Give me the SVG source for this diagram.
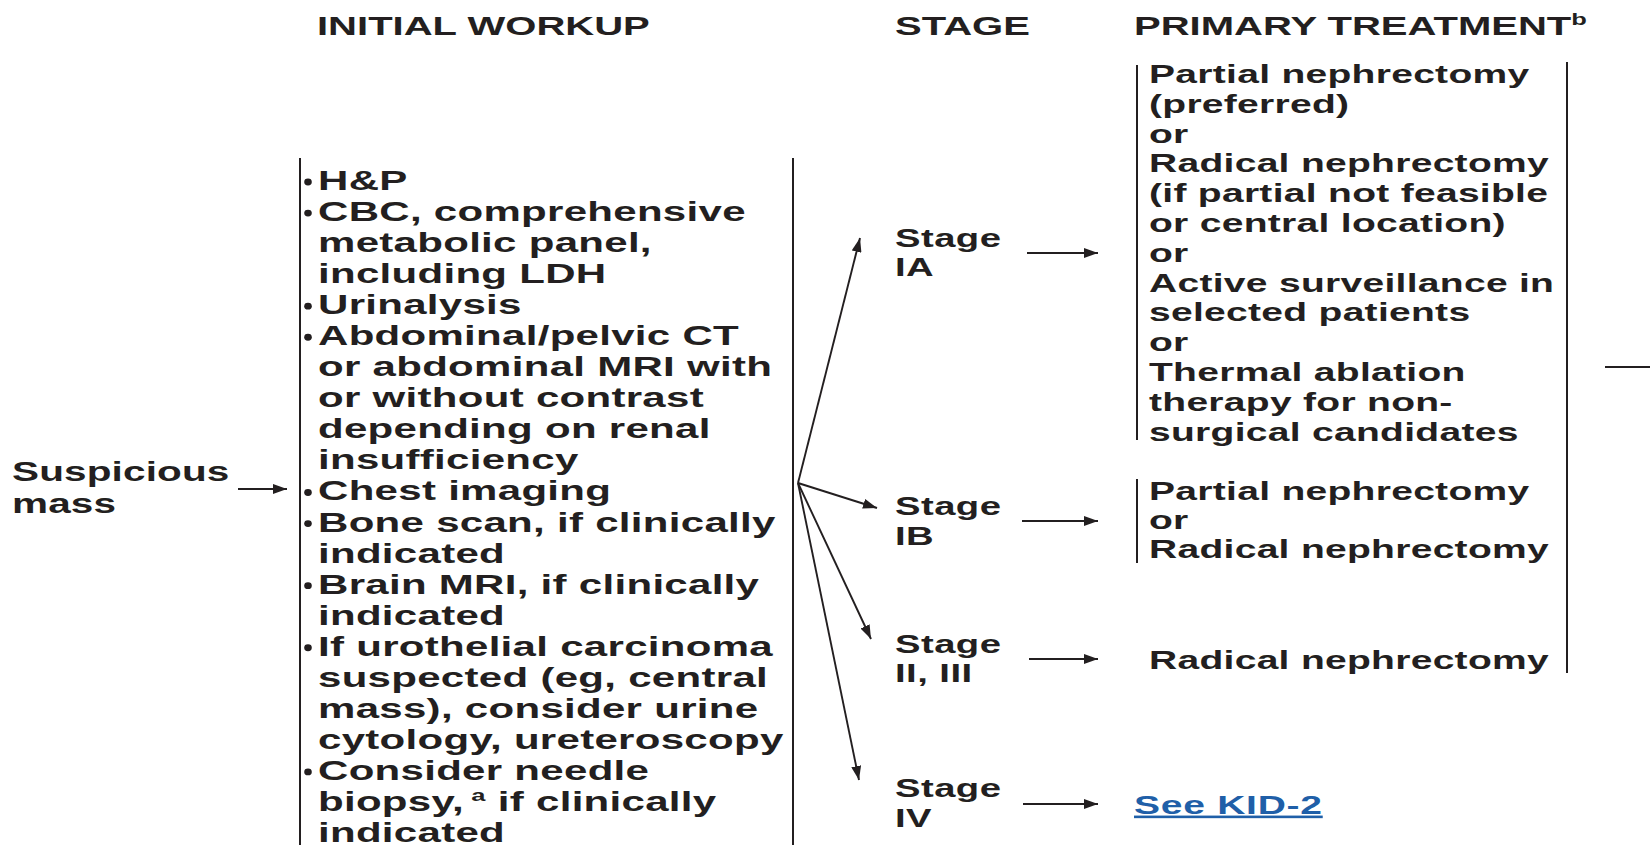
<svg xmlns="http://www.w3.org/2000/svg" width="1650" height="845" viewBox="0 0 1650 845">
<defs>
<style>
.t{font-family:"Liberation Sans",Arial,sans-serif;font-weight:bold;fill:#231f20}
.h{font-size:26.7px}
.l{font-size:28px;letter-spacing:0.2px}
.r{font-size:26px;letter-spacing:0.2px}
.s{font-size:25.5px;letter-spacing:0.3px}
.m{font-size:27px;letter-spacing:0.1px}
.bar{stroke:#231f20;stroke-width:2;fill:none}
.con{stroke:#231f20;stroke-width:1.9;fill:none;marker-end:url(#ah)}
.lnk{fill:#1f5fa8;letter-spacing:0.5px}
</style>
<marker id="ah" markerWidth="14" markerHeight="10" refX="14" refY="5" orient="auto" markerUnits="userSpaceOnUse">
<path d="M0,0 L14,5 L0,10 z" fill="#231f20"/>
</marker>
</defs>
<rect width="1650" height="845" fill="#ffffff"/>

<g id="headers">
<text class="t h" transform="translate(317,35) scale(1.5,1)">INITIAL WORKUP</text>
<text class="t h" transform="translate(895,35) scale(1.5,1)">STAGE</text>
<text class="t h" transform="translate(1134,35) scale(1.5,1)">PRIMARY TREATMENT<tspan font-size="17" dy="-10">b</tspan></text>
</g>

<g id="node-suspicious-mass">
<text class="t m" transform="translate(12,481) scale(1.5,1)"><tspan x="0" dy="0">Suspicious</tspan><tspan x="0" dy="32">mass</tspan></text>
</g>

<g id="node-initial-workup">
<line class="bar" x1="300" y1="158" x2="300" y2="845"/>
<line class="bar" x1="793" y1="158" x2="793" y2="845"/>
<g fill="#231f20">
<ellipse cx="308" cy="182" rx="3.8" ry="3.4"/>
<ellipse cx="308" cy="213.05" rx="3.8" ry="3.4"/>
<ellipse cx="308" cy="306.2" rx="3.8" ry="3.4"/>
<ellipse cx="308" cy="337.25" rx="3.8" ry="3.4"/>
<ellipse cx="308" cy="492.5" rx="3.8" ry="3.4"/>
<ellipse cx="308" cy="523.55" rx="3.8" ry="3.4"/>
<ellipse cx="308" cy="585.65" rx="3.8" ry="3.4"/>
<ellipse cx="308" cy="647.75" rx="3.8" ry="3.4"/>
<ellipse cx="308" cy="771.95" rx="3.8" ry="3.4"/>
</g>
<text class="t l" transform="translate(318,190) scale(1.5,1)">
<tspan x="0" dy="0">H&amp;P</tspan>
<tspan x="0" dy="31.05">CBC, comprehensive</tspan>
<tspan x="0" dy="31.05">metabolic panel,</tspan>
<tspan x="0" dy="31.05">including LDH</tspan>
<tspan x="0" dy="31.05">Urinalysis</tspan>
<tspan x="0" dy="31.05">Abdominal/pelvic CT</tspan>
<tspan x="0" dy="31.05">or abdominal MRI with</tspan>
<tspan x="0" dy="31.05">or without contrast</tspan>
<tspan x="0" dy="31.05">depending on renal</tspan>
<tspan x="0" dy="31.05">insufficiency</tspan>
<tspan x="0" dy="31.05">Chest imaging</tspan>
<tspan x="0" dy="31.05">Bone scan, if clinically</tspan>
<tspan x="0" dy="31.05">indicated</tspan>
<tspan x="0" dy="31.05">Brain MRI, if clinically</tspan>
<tspan x="0" dy="31.05">indicated</tspan>
<tspan x="0" dy="31.05">If urothelial carcinoma</tspan>
<tspan x="0" dy="31.05">suspected (eg, central</tspan>
<tspan x="0" dy="31.05">mass), consider urine</tspan>
<tspan x="0" dy="31.05">cytology, ureteroscopy</tspan>
<tspan x="0" dy="31.05">Consider needle</tspan>
<tspan x="0" dy="31.05">biopsy,</tspan><tspan font-size="17" dy="-10"> a</tspan><tspan dy="10"> if clinically</tspan>
<tspan x="0" dy="31.05">indicated</tspan>
</text>
</g>

<g id="node-stage-ia">
<text class="t s" transform="translate(895,247) scale(1.5,1)"><tspan x="0">Stage</tspan><tspan x="0" dy="29.5">IA</tspan></text>
</g>
<g id="node-stage-ib">
<text class="t s" transform="translate(895,515) scale(1.5,1)"><tspan x="0">Stage</tspan><tspan x="0" dy="30">IB</tspan></text>
</g>
<g id="node-stage-ii-iii">
<text class="t s" transform="translate(895,653) scale(1.5,1)"><tspan x="0">Stage</tspan><tspan x="0" dy="29.5">II, III</tspan></text>
</g>
<g id="node-stage-iv">
<text class="t s" transform="translate(895,797) scale(1.5,1)"><tspan x="0">Stage</tspan><tspan x="0" dy="30">IV</tspan></text>
</g>

<g id="node-treatment-ia">
<line class="bar" x1="1137" y1="65" x2="1137" y2="440"/>
<text class="t r" transform="translate(1149,83) scale(1.5,1)">
<tspan x="0" dy="0">Partial nephrectomy</tspan>
<tspan x="0" dy="29.8">(preferred)</tspan>
<tspan x="0" dy="29.8">or</tspan>
<tspan x="0" dy="29.8">Radical nephrectomy</tspan>
<tspan x="0" dy="29.8">(if partial not feasible</tspan>
<tspan x="0" dy="29.8">or central location)</tspan>
<tspan x="0" dy="29.8">or</tspan>
<tspan x="0" dy="29.8">Active surveillance in</tspan>
<tspan x="0" dy="29.8">selected patients</tspan>
<tspan x="0" dy="29.8">or</tspan>
<tspan x="0" dy="29.8">Thermal ablation</tspan>
<tspan x="0" dy="29.8">therapy for non-</tspan>
<tspan x="0" dy="29.8">surgical candidates</tspan>
</text>
</g>

<g id="node-treatment-ib">
<line class="bar" x1="1137" y1="479" x2="1137" y2="563"/>
<text class="t r" transform="translate(1149,500) scale(1.5,1)">
<tspan x="0" dy="0">Partial nephrectomy</tspan>
<tspan x="0" dy="29">or</tspan>
<tspan x="0" dy="29">Radical nephrectomy</tspan>
</text>
</g>

<g id="node-treatment-ii-iii">
<text class="t r" transform="translate(1149,669) scale(1.5,1)">Radical nephrectomy</text>
</g>

<g id="node-treatment-iv">
<text class="t r lnk" transform="translate(1134,814) scale(1.5,1)" text-decoration="underline">See KID-2</text>
</g>

<g id="treatment-bracket">
<line class="bar" x1="1567" y1="62" x2="1567" y2="673"/>
<line class="bar" x1="1605" y1="367" x2="1650" y2="367"/>
</g>

<g id="connectors">
<line class="con" x1="238" y1="489" x2="287" y2="489"/>
<line class="con" x1="798" y1="483" x2="860" y2="238"/>
<line class="con" x1="798" y1="483" x2="877" y2="508"/>
<line class="con" x1="798" y1="483" x2="871" y2="639"/>
<line class="con" x1="798" y1="483" x2="859" y2="780"/>
<line class="con" x1="1027" y1="253" x2="1098" y2="253"/>
<line class="con" x1="1022" y1="521" x2="1098" y2="521"/>
<line class="con" x1="1029" y1="659" x2="1098" y2="659"/>
<line class="con" x1="1023" y1="804" x2="1098" y2="804"/>
</g>
</svg>
